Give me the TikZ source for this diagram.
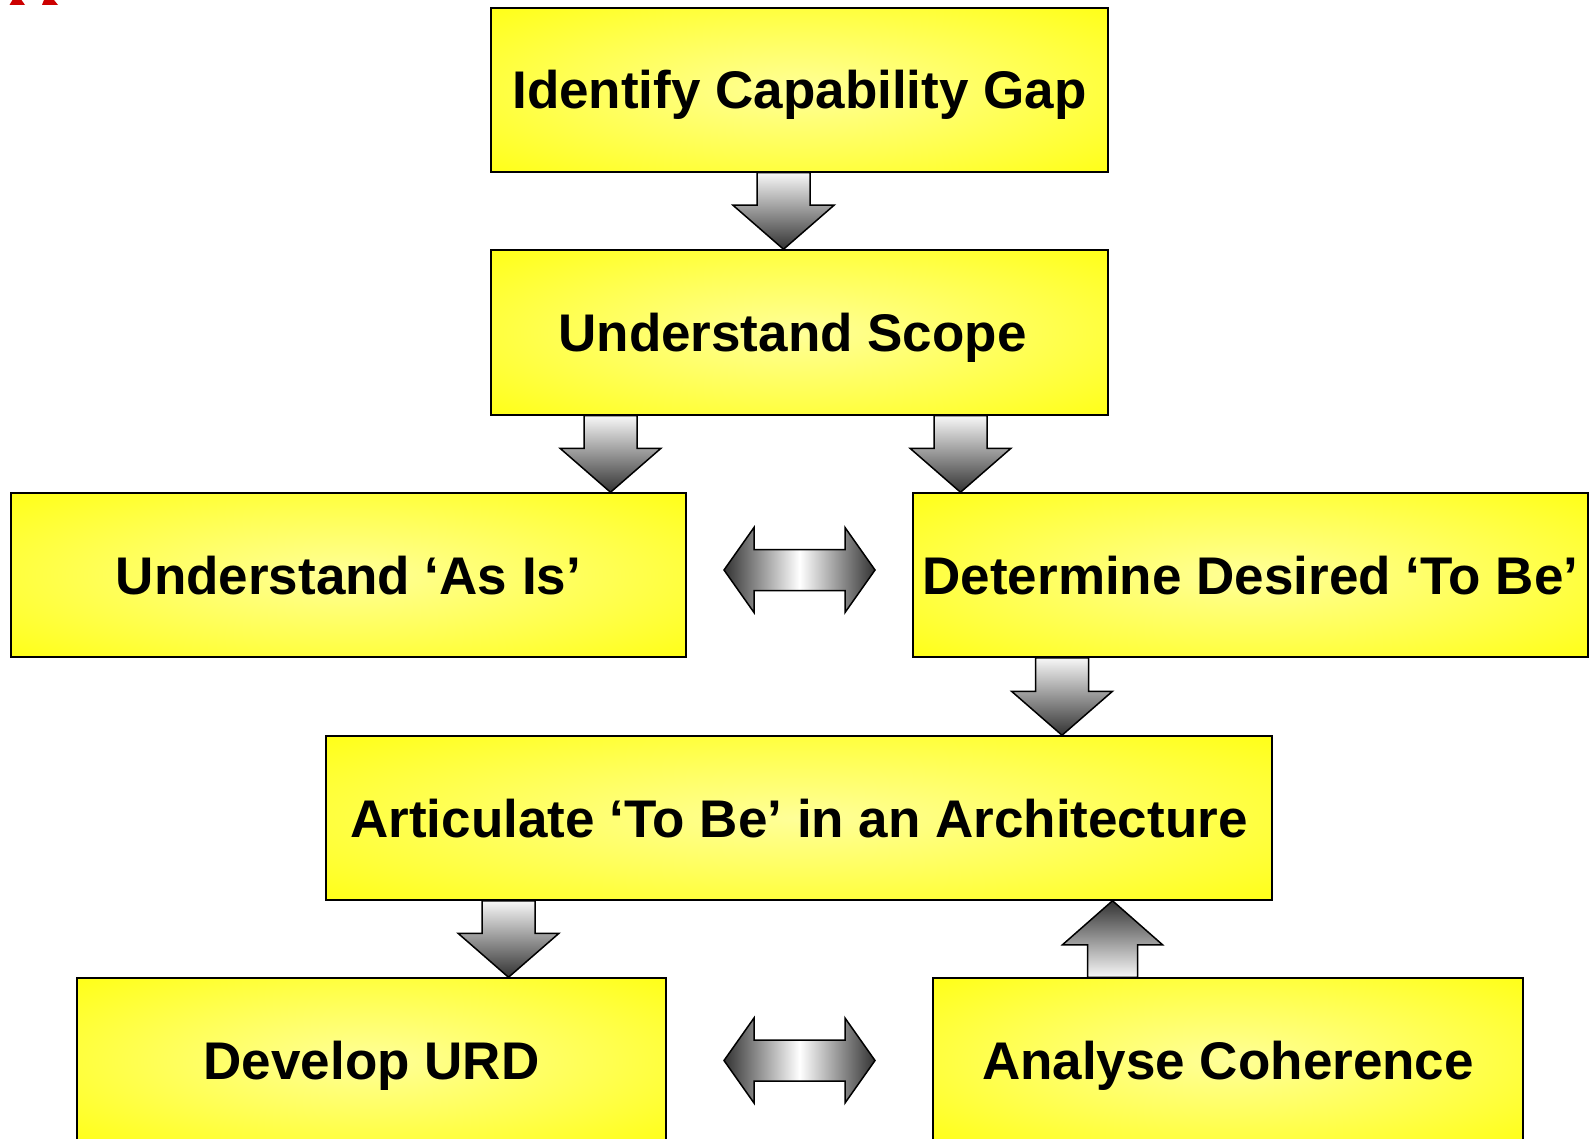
\documentclass[tikz,border=0pt]{standalone}
\usepackage{fontspec}
\setmainfont{Liberation Sans}
\usetikzlibrary{calc}
\pgfdeclareradialshading{boxshade}{\pgfpoint{0bp}{0bp}}{color(0bp)=(yellow!40!white); color(42bp)=(yellow); color(50bp)=(yellow)}
\newcommand\arrdown[3]{% top node, bottom node, x centre
  \filldraw[arrv] let \p1=(#1.south), \p2=(#2.north) in
    ({#3pt-26.5pt},\y1) -- ({#3pt+26.5pt},\y1) -- ({#3pt+26.5pt},{\y2+44pt}) --
    ({#3pt+50.5pt},{\y2+44pt}) -- ({#3pt},\y2) -- ({#3pt-50.5pt},{\y2+44pt}) --
    ({#3pt-26.5pt},{\y2+44pt}) -- cycle;}
\newcommand\arrup[3]{% bottom node, top node, x centre
  \filldraw[arru] let \p1=(#1.north), \p2=(#2.south) in
    ({#3pt-25pt},\y1) -- ({#3pt+25pt},\y1) -- ({#3pt+25pt},{\y2-44pt}) --
    ({#3pt+50pt},{\y2-44pt}) -- ({#3pt},\y2) -- ({#3pt-50pt},{\y2-44pt}) --
    ({#3pt-25pt},{\y2-44pt}) -- cycle;}
\newcommand\arrboth[3]{% left node, right node, y offset
  \filldraw[arrh] let \p1=(#1.east), \p2=(#2.west), \n1={(\x1+\x2)/2}, \n2={\y1+#3pt} in
    ({\n1-75.5pt},\n2) -- ({\n1-45.5pt},{\n2+42.5pt}) -- ({\n1-45.5pt},{\n2+20.5pt}) --
    ({\n1+45.5pt},{\n2+20.5pt}) -- ({\n1+45.5pt},{\n2+42.5pt}) -- ({\n1+75.5pt},\n2) --
    ({\n1+45.5pt},{\n2-42.5pt}) -- ({\n1+45.5pt},{\n2-20.5pt}) --
    ({\n1-45.5pt},{\n2-20.5pt}) -- ({\n1-45.5pt},{\n2-42.5pt}) -- cycle;}
\begin{document}
\begin{tikzpicture}[x=1pt,y=-1pt,
  box/.style={draw=black, line width=1.5pt, rectangle, shading=boxshade,
    font=\fontsize{53}{60}\selectfont\bfseries, text height=38pt, text depth=0pt,
    inner sep=0pt, minimum height=164pt},
  arrv/.style={draw=black, line width=1.5pt, line join=miter, top color=white!97!black, bottom color=black!80},
  arru/.style={draw=black, line width=1.5pt, line join=miter, top color=black!80, bottom color=white!97!black},
  arrh/.style={draw=black, line width=1.5pt, line join=miter, left color=black!80, right color=black!80, middle color=white},
  redbit/.style={fill=red!80!black, draw=none}]
\clip (0,0) rectangle (1593,1139);
\fill[white] (0,0) rectangle (1593,1139);
\fill[redbit] (12.5,0) -- (21.5,0) -- (25,5) -- (9.5,5) -- cycle;
\fill[redbit] (44,0) -- (54,0) -- (58,5) -- (42,5) -- cycle;
\node[box, minimum width=617pt] (b1) at (799.5,90) {Identify Capability Gap};
\node[box, minimum width=617pt, minimum height=165pt] (b2) at (799.5,332.5) {Understand Scope\hspace*{14pt}};
\node[box, minimum width=675pt] (b3l) at (348.5,575) {Understand ‘As Is’};
\node[box, minimum width=675pt] (b3r) at (1250.5,575) {Determine Desired ‘To Be’};
\node[box, minimum width=946pt] (b4) at (799,818) {Articulate ‘To Be’ in an Architecture};
\node[box, minimum width=589pt, minimum height=165pt] (b5l) at (371.5,1060.5) {Develop URD};
\node[box, minimum width=590pt, minimum height=165pt] (b5r) at (1228,1060.5) {Analyse Coherence};
\arrdown{b1}{b2}{783.5}
\arrdown{b2}{b3l}{610.5}
\arrdown{b2}{b3r}{960.5}
\arrdown{b3r}{b4}{1062}
\arrdown{b4}{b5l}{508.5}
\arrup{b5r}{b4}{1112.5}
\arrboth{b3l}{b3r}{5}
\arrboth{b5l}{b5r}{0}
\end{tikzpicture}
\end{document}
